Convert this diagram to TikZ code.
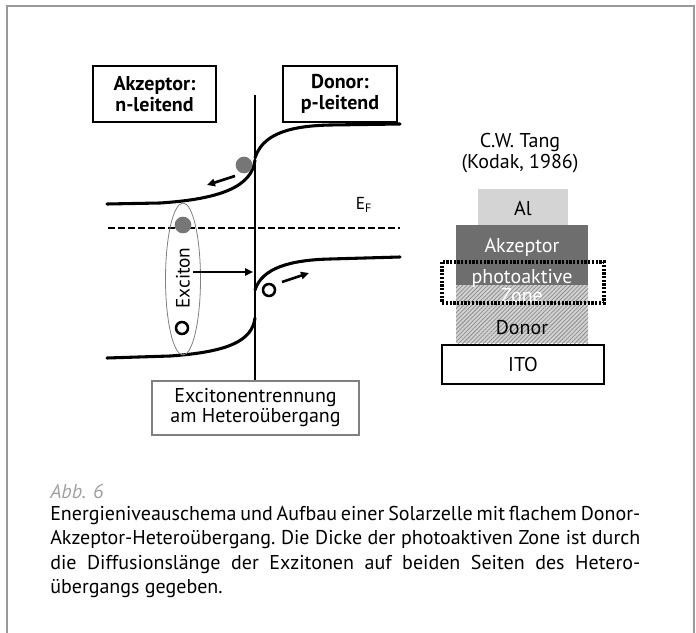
\documentclass[tikz,border=0pt]{standalone}
\usepackage{fontspec}
\setmainfont{PT Sans}
\usetikzlibrary{arrows.meta,patterns.meta}

\definecolor{framegray}{HTML}{9A9A9A}
\definecolor{algray}{HTML}{D4D4D4}
\definecolor{akzgray}{HTML}{6E6E6E}
\definecolor{dotgray}{HTML}{767676}
\definecolor{captiongray}{HTML}{A0A0A0}

\tikzset{
  band/.style={line width=2.3pt, line cap=round},
  headbox/.style={draw, line width=1.4pt, align=center, inner sep=0pt,
    font=\bfseries\fontsize{15}{15.5}\selectfont},
  carrier/.style={line width=2pt, -{Triangle[length=6pt,width=5.5pt]}},
  electron/.style={circle, fill=dotgray, inner sep=0pt, minimum size=12.5pt},
  hole/.style={circle, draw, line width=1.9pt, fill=white, inner sep=0pt, minimum size=9pt},
  layertext/.style={inner sep=0pt, font=\fontsize{15}{15}\selectfont}
}

\begin{document}
\begin{tikzpicture}[x=0.75pt, y=-0.75pt]
  \useasboundingbox (0,0) rectangle (696,632);
  % frame, open at the bottom
  \draw[framegray, line width=1.2pt] (7,640) -- (7,6) -- (694,6) -- (694,640);

  % band diagram
  \node[headbox, minimum width=92pt, minimum height=42pt] (akz) at (154.5,94) {Akzeptor:\\n-leitend};
  \node[headbox, minimum width=85.5pt, minimum height=42pt] (don) at (340,94) {Donor:\\p-leitend};
  \node[draw=gray, line width=0.8pt, minimum width=155.25pt, minimum height=40.5pt,
    align=center, layertext] (sep) at (255.5,408) {Excitonentrennung\\am Heteroübergang};

  \coordinate (jtop) at (255,95);
  \draw[line width=2.2pt] (jtop) -- (sep.north -| jtop);

  \draw[band] (107,204) -- (160,203) .. controls (222,199) and (252,186) .. (255,160);
  \draw[band] (255,158) .. controls (262,136) and (285,126) .. (330,125) -- (400,124);
  \draw[band] (255,290) .. controls (262,268) and (290,260) .. (330,259) -- (400,257);
  \draw[band] (107,358) -- (170,356) .. controls (228,352) and (252,341) .. (255,318);

  \draw[line width=1.1pt, dash pattern=on 5pt off 2.5pt] (108,228) -- (400,228);
  \node[inner sep=0pt, font=\fontsize{13}{13}\selectfont] (ef) at (364,205) {E\textsubscript{F}};

  % exciton
  \draw[gray, line width=0.6pt] (183,279) ellipse [x radius=17.5, y radius=76];
  \node[rotate=90, inner sep=0pt, font=\fontsize{14.5}{14.5}\selectfont] (exlabel) at (183,278) {Exciton};
  \node[electron] (exe) at (183,225) {};
  \node[hole] (exh) at (182,328) {};

  \coordinate (exout) at (193,272);
  \coordinate (exin) at (253,272);
  \draw[carrier, line width=1.6pt] (exout) -- (exin);

  % separated carriers
  \node[electron] (el) at (244,165) {};
  \node[hole] (ho) at (269,290) {};
  \draw[carrier] (235,176) -- (207,185);
  \draw[carrier] (282,282) -- (309,273);

  % layer stack
  \node[layertext, align=center, font=\fontsize{15}{15.5}\selectfont] (tang) at (520,153) {C.W. Tang\\(Kodak, 1986)};
  \fill[algray] (478,189) rectangle (568,225);
  \fill[akzgray] (456,225) rectangle (588,285);
  \fill[gray!35] (456,285) rectangle (588,343);
  \fill[pattern={Lines[angle=45, distance=2.2pt, line width=0.55pt]}, pattern color=gray!90]
    (456,285) rectangle (588,343);
  \node[layertext] (al) at (523,209) {Al};
  \node[layertext, text=white] (akzl) at (522,247) {Akzeptor};
  \node[layertext, text=white, align=center, font=\fontsize{15}{12}\selectfont] (zone) at (522,286) {photoaktive\\Zone};
  \node[layertext] (donl) at (522,328) {Donor};
  \draw[line width=2.3pt, dash pattern=on 1.7pt off 1.1pt] (442,262) rectangle (604,303);
  \node[draw, line width=1.9pt, fill=white, minimum width=121.5pt, minimum height=29.25pt,
    layertext] (ito) at (523,364.5) {ITO};

  % caption
  \node[anchor=west, text=captiongray, inner sep=0pt,
    font=\itshape\fontsize{15}{16}\selectfont] (abb) at (50,491) {Abb. 6};
  \node[anchor=north west, align=left, inner sep=0pt,
    font=\fontsize{15}{18.2}\selectfont\frenchspacing] (caption) at (50,506)
    {\makebox[442.5pt][s]{Energieniveauschema und Aufbau einer Solarzelle mit flachem Donor-}\\
     \makebox[442.5pt][s]{Akzeptor-Heteroübergang. Die Dicke der photoaktiven Zone ist durch}\\
     \makebox[442.5pt][s]{die Diffusionslänge der Exzitonen auf beiden Seiten des Hetero-}\\
     übergangs gegeben.};
\end{tikzpicture}
\end{document}
